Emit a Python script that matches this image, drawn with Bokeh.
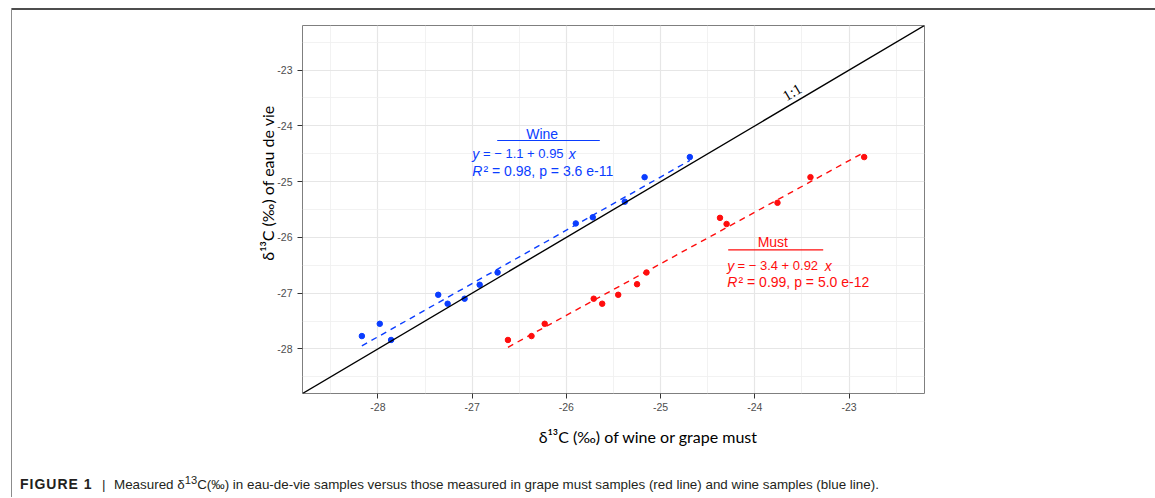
import numpy as np
from bokeh.plotting import figure
from bokeh.models import Range1d, FixedTicker, Label, Slope, Div, Spacer
from bokeh.layouts import column, row
from bokeh.embed import file_html
from bokeh.resources import INLINE

# ---------------- data ----------------
wine_x = [-28.17, -27.98, -27.86, -27.36, -27.26, -27.08, -26.92, -26.73, -25.90, -25.72, -25.38, -25.17, -24.69]
wine_y = [-27.77, -27.55, -27.84, -27.03, -27.19, -27.10, -26.85, -26.63, -25.75, -25.64, -25.36, -24.92, -24.56]
must_x = [-26.62, -26.37, -26.23, -25.71, -25.62, -25.45, -25.25, -25.15, -24.37, -24.30, -23.76, -23.41, -22.84]
must_y = [-27.84, -27.77, -27.55, -27.10, -27.19, -27.03, -26.84, -26.63, -25.65, -25.76, -25.38, -24.92, -24.56]
tick_values = [-28, -27, -26, -25, -24, -23]
tick_labels = ["-28", "-27", "-26", "-25", "-24", "-23"]
minor_values = [-28.5, -27.5, -26.5, -25.5, -24.5, -23.5, -22.5]

wine_title = "Wine"
wine_eq = "= \u2212 1.1 + 0.95"
wine_stat = "\u00b2 = 0.98, p = 3.6 e-11"
must_title = "Must"
must_eq = "= \u2212 3.4 + 0.92"
must_stat = "\u00b2 = 0.99, p = 5.0 e-12"
x_label = "\u03b4\u00b9\u00b3C (\u2030) of wine or grape must"
y_label = "\u03b4\u00b9\u00b3C (\u2030) of eau de vie"
caption_bold = "FIGURE 1"
caption_rest = ("Measured \u03b4<sup>13</sup>C(\u2030) in eau-de-vie samples versus those measured in "
                "grape must samples (red line) and wine samples (blue line).")

BLUE = "#0a3dff"
RED = "#ff0d0d"

# ---------------- layout (page pixels) ----------------
PX0, PY0 = 12, 10            # page position of the figure
W, H = 1143, 458
CAP_H = 29
FX0, FX1, FY0, FY1 = 302, 924, 25, 393   # frame edges on the page
ML, MR = FX0 - PX0, PX0 + W - FX1
MT, MB = FY0 - PY0, PY0 + H - FY1
X_LO, X_HI = -28.8, -22.2
Y_LO, Y_HI = -28.8, -22.2
PXX = (FX1 - FX0) / (X_HI - X_LO)
PXY = (FY1 - FY0) / (Y_HI - Y_LO)


def dx(X):
    return X_LO + (X - FX0) / PXX


def dy(Y):
    return Y_HI - (Y - FY0) / PXY


p = figure(width=W, height=H, output_backend="svg", toolbar_location=None,
           x_range=Range1d(X_LO, X_HI), y_range=Range1d(Y_LO, Y_HI),
           min_border_left=ML, min_border_right=MR, min_border_top=MT, min_border_bottom=MB,
           margin=0)
p.background_fill_color = "white"
p.border_fill_color = "white"
p.outline_line_color = "#7f7f7f"
p.outline_line_width = 1

for ax in (p.xaxis[0], p.yaxis[0]):
    ax.ticker = FixedTicker(ticks=tick_values, minor_ticks=minor_values)
    ax.major_label_overrides = dict(zip(tick_values, tick_labels))
    ax.axis_line_color = None
    ax.major_tick_in = 0
    ax.major_tick_out = 5
    ax.major_tick_line_color = "#333333"
    ax.minor_tick_in = 0
    ax.minor_tick_out = 0
    ax.major_label_text_font = "Liberation Sans"
    ax.major_label_text_font_size = "10.5px"
    ax.major_label_text_color = "#4d4d4d"
    ax.axis_label_text_font = "Lato"
    ax.axis_label_text_font_size = "16px"
    ax.axis_label_text_font_style = "normal"
    ax.axis_label_text_color = "black"

p.xaxis[0].major_label_standoff = 4
p.yaxis[0].major_label_standoff = 5
NB = "\u00a0"
p.xaxis[0].axis_label = NB * 17 + x_label
p.xaxis[0].axis_label_standoff = 13
p.yaxis[0].axis_label = NB * 13 + y_label
p.yaxis[0].axis_label_standoff = -3

for g in (p.xgrid[0], p.ygrid[0]):
    g.grid_line_color = "#e6e6e6"
    g.grid_line_width = 1.2
    g.minor_grid_line_color = "#efefef"
    g.minor_grid_line_width = 0.8

# 1:1 line
p.add_layout(Slope(gradient=1, y_intercept=0, line_color="black", line_width=1.4))

# regression lines (least squares fit of each group)
for xs, ys, col in ((wine_x, wine_y, BLUE), (must_x, must_y, RED)):
    b, a = np.polyfit(xs, ys, 1)
    lx = np.array([min(xs), max(xs)])
    p.line(lx, a + b * lx, line_color=col, line_width=1.4, line_dash="6 5")

p.scatter(wine_x, wine_y, size=5.5, color=BLUE)
p.scatter(must_x, must_y, size=5.5, color=RED)


def lab(X, Y, text, color="black", size="14px", font="Liberation Sans", style="normal",
        align="left", baseline="middle", angle=0.0):
    p.add_layout(Label(x=dx(X), y=dy(Y), text=text, text_color=color, text_font=font,
                       text_font_size=size, text_font_style=style, text_align=align,
                       text_baseline=baseline, angle=angle))


# 1:1 label
lab(791.7, 91.7, "1:1", size="15px", font="Liberation Serif", align="center",
    baseline="middle", angle=np.arctan(PXY / PXX))

# Wine annotation
lab(541.7, 133.3, wine_title, color=BLUE, align="center")
p.line([dx(496.7), dx(599.3)], [dy(140.0), dy(140.0)], line_color=BLUE, line_width=1.2)
lab(471.7, 153.3, "y", color=BLUE, style="italic")
lab(482.5, 153.3, wine_eq, color=BLUE, size="13px")
lab(568.3, 153.3, "x", color=BLUE, style="italic")
lab(471.7, 170.0, "R", color=BLUE, style="italic")
lab(483.0, 170.0, wine_stat, color=BLUE)

# Must annotation
lab(772.3, 241.7, must_title, color=RED, align="center")
p.line([dx(727.7), dx(822.7)], [dy(249.3), dy(249.3)], line_color=RED, line_width=1.2)
lab(726.7, 265.0, "y", color=RED, style="italic")
lab(737.0, 265.0, must_eq, color=RED, size="13px")
lab(824.3, 265.0, "x", color=RED, style="italic")
lab(726.7, 281.7, "R", color=RED, style="italic")
lab(738.0, 281.7, must_stat, color=RED)

# caption and figure rules
caption_html = ("<span style='display:inline-block;width:82px;font-weight:bold;font-size:14px;"
                "letter-spacing:1px'>" + caption_bold + "</span>"
                "<span style='display:inline-block;width:12px'>|</span>" + caption_rest)
caption = Div(text=caption_html, width=W, height=CAP_H, margin=0,
              styles={"font-family": "Liberation Sans, Arial, sans-serif", "font-size": "13.4px",
                      "color": "#231f20", "padding-left": "8px", "padding-top": "4px",
                      "line-height": "16px", "white-space": "nowrap"})
top_rule = Div(text="", width=W, height=2, margin=0, styles={"background-color": "#4d4d4d"})
left_rule = Div(text="", width=1, height=2 + H + CAP_H, margin=0,
                styles={"background-color": "#8c8c8c"})

inner = column(top_rule, p, caption, spacing=0, margin=0)
body = row(Spacer(width=11, height=2 + H + CAP_H, margin=0), left_rule, inner, spacing=0, margin=0)
root = column(Spacer(width=1155, height=8, margin=0), body, spacing=0, margin=0)

open("out.html", "w").write(file_html(root, INLINE))
